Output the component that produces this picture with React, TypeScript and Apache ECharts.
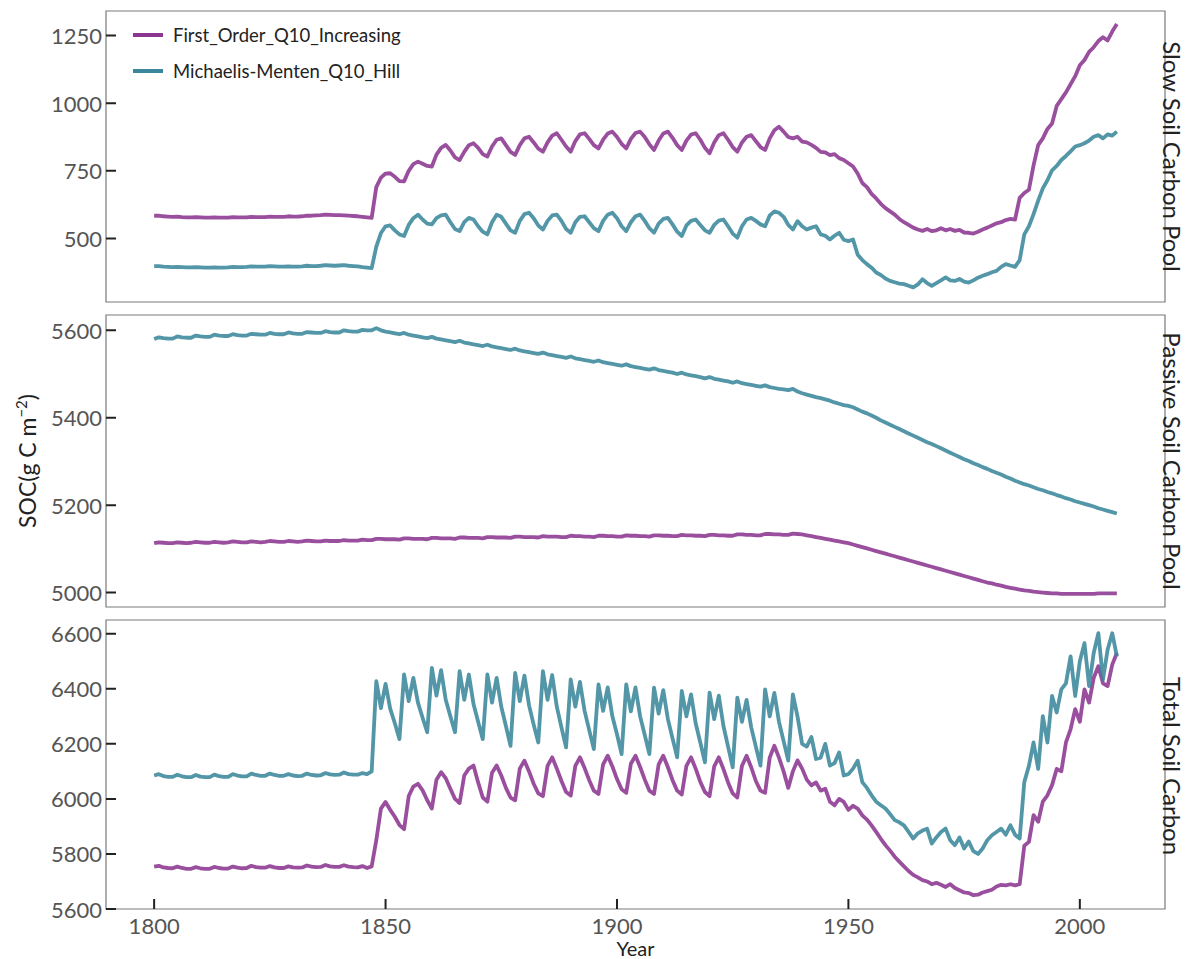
import React, { useEffect, useRef } from "react";
import * as echarts from "echarts";

const START_YEAR = 1800;
const NAME_FO = "First_Order_Q10_Increasing";
const NAME_MM = "Michaelis-Menten_Q10_Hill";
const X_TICKS = [1800, 1850, 1900, 1950, 2000];
const Y_TICKS_SLOW = [500, 750, 1000, 1250];
const Y_TICKS_PASSIVE = [5000, 5200, 5400, 5600];
const Y_TICKS_TOTAL = [5600, 5800, 6000, 6200, 6400, 6600];
const PANEL_LABELS = ["Slow Soil Carbon Pool", "Passive Soil Carbon Pool", "Total Soil Carbon"];

// Slow pool, First_Order_Q10_Increasing (1800..2008)
const slowFO = [
  584, 584, 582, 581, 580, 581, 579, 578, 578, 579,
  578, 577, 577, 578, 577, 577, 577, 579, 578, 578,
  578, 580, 579, 579, 579, 581, 580, 580, 580, 582,
  581, 581, 582, 584, 584, 585, 586, 588, 587, 586,
  586, 585, 584, 583, 582, 580, 578, 576, 690, 725,
  740, 741, 728, 712, 711, 750, 775, 784, 776, 768,
  766, 810, 835, 846, 825, 800, 790, 820, 845, 852,
  835, 812, 803, 840, 865, 870, 845, 820, 809, 845,
  870, 876, 855, 832, 821, 855, 880, 889, 865, 840,
  821, 860, 885, 889, 868, 845, 833, 865, 888, 895,
  875, 850, 833, 868, 890, 895, 875, 848, 827, 862,
  888, 895, 872, 845, 827, 862, 884, 889, 865, 835,
  815, 855, 882, 889, 865, 838, 821, 855, 876, 882,
  860, 838, 827, 870, 900, 913, 895, 875, 870, 876,
  858, 855, 846, 835, 820, 818, 808, 812, 797, 790,
  778, 766, 740, 705, 690, 665, 648, 628, 612, 600,
  588, 572, 560, 550, 540, 533, 528, 535, 527, 530,
  538, 530, 535, 528, 532, 522, 521, 518, 525, 533,
  540, 548, 556, 560, 568, 572, 570, 650, 668, 680,
  770, 845, 870, 905, 925, 990, 1015, 1040, 1070, 1100,
  1140, 1160, 1190, 1207, 1230, 1244, 1232, 1265, 1293,
];

// Slow pool, Michaelis-Menten_Q10_Hill
const slowMM = [
  398, 398, 396, 395, 394, 395, 394, 393, 393, 394,
  393, 392, 392, 393, 392, 392, 393, 395, 394, 394,
  395, 397, 396, 396, 396, 398, 397, 396, 396, 397,
  396, 396, 397, 399, 398, 398, 399, 401, 400, 399,
  400, 401, 399, 398, 397, 394, 392, 390, 470, 520,
  545, 548, 530, 515, 509, 550, 575, 588, 570, 555,
  552, 575, 585, 588, 560, 535, 527, 560, 576, 570,
  545, 525, 515, 560, 588, 580, 555, 530, 521, 565,
  590, 595, 575, 548, 533, 565, 585, 588, 565, 535,
  521, 560, 580, 582, 560, 538, 527, 565, 588, 595,
  575, 545, 527, 560, 582, 588, 565, 538, 521, 555,
  572, 576, 552, 525, 509, 548, 565, 570, 550, 530,
  521, 550, 566, 570, 545, 518, 503, 545, 570, 576,
  565, 552, 545, 585, 600, 595, 580, 550, 533, 564,
  545, 533, 540, 545, 515, 510, 496, 510, 521, 495,
  490, 496, 440, 420, 405, 392, 374, 365, 352, 343,
  338, 333, 331, 325, 319, 330, 349, 335, 325, 335,
  345, 356, 345, 343, 350, 340, 337, 345, 355, 362,
  368, 375, 380, 395, 405, 400, 395, 420, 515, 545,
  590, 640, 685, 715, 752, 768, 790, 805, 822, 840,
  845, 852, 862, 876, 882, 870, 885, 880, 895,
];

// Passive pool, First_Order_Q10_Increasing
const passiveFO = [
  5113, 5115, 5114, 5113, 5113, 5115, 5114, 5113, 5114, 5116,
  5115, 5114, 5114, 5116, 5115, 5114, 5115, 5117, 5116, 5115,
  5115, 5117, 5116, 5115, 5116, 5118, 5117, 5116, 5116, 5118,
  5117, 5116, 5117, 5119, 5118, 5117, 5117, 5119, 5118, 5118,
  5118, 5120, 5119, 5119, 5119, 5121, 5120, 5120, 5123, 5123,
  5122, 5122, 5122, 5121, 5124, 5124, 5123, 5123, 5123, 5122,
  5125, 5125, 5124, 5124, 5124, 5123, 5126, 5126, 5125, 5125,
  5125, 5124, 5127, 5127, 5126, 5126, 5126, 5125, 5128, 5128,
  5127, 5127, 5127, 5126, 5129, 5128, 5128, 5128, 5127, 5127,
  5130, 5129, 5129, 5128, 5128, 5127, 5130, 5130, 5129, 5129,
  5128, 5128, 5131, 5130, 5130, 5129, 5129, 5128, 5131, 5131,
  5130, 5130, 5129, 5129, 5132, 5131, 5131, 5130, 5130, 5129,
  5132, 5132, 5131, 5131, 5130, 5130, 5133, 5133, 5132, 5132,
  5131, 5131, 5134, 5134, 5133, 5133, 5132, 5132, 5135, 5134,
  5133, 5131, 5129, 5127, 5125, 5123, 5121, 5119, 5117, 5115,
  5113, 5110, 5107, 5104, 5101, 5098, 5095, 5092, 5089, 5086,
  5083, 5080, 5077, 5074, 5071, 5068, 5065, 5062, 5059, 5056,
  5053, 5050, 5047, 5044, 5041, 5038, 5035, 5032, 5029, 5026,
  5023, 5021, 5018, 5016, 5013, 5011, 5009, 5007, 5005, 5004,
  5002, 5001, 5000, 4999, 4998, 4998, 4997, 4997, 4997, 4997,
  4997, 4997, 4997, 4997, 4998, 4998, 4998, 4998, 4998,
];

// Passive pool, Michaelis-Menten_Q10_Hill
const passiveMM = [
  5580, 5584, 5582, 5581, 5581, 5586, 5584, 5583, 5583, 5588,
  5586, 5585, 5585, 5590, 5588, 5587, 5587, 5591, 5589, 5588,
  5588, 5592, 5591, 5590, 5590, 5594, 5592, 5591, 5591, 5595,
  5593, 5592, 5592, 5596, 5595, 5594, 5594, 5598, 5596, 5595,
  5595, 5600, 5598, 5597, 5597, 5601, 5600, 5600, 5605, 5600,
  5597, 5595, 5593, 5591, 5594, 5590, 5588, 5586, 5584, 5582,
  5585, 5581, 5579, 5577, 5575, 5573, 5576, 5572, 5570, 5568,
  5566, 5564, 5567, 5563, 5561, 5559, 5557, 5555, 5558, 5554,
  5552, 5550, 5548, 5546, 5549, 5545, 5543, 5541, 5539, 5537,
  5540, 5536, 5534, 5532, 5530, 5528, 5531, 5527, 5525, 5523,
  5521, 5519, 5522, 5518, 5516, 5514, 5512, 5510, 5513, 5509,
  5507, 5505, 5503, 5500, 5503, 5499, 5497, 5495, 5493, 5490,
  5493, 5489, 5487, 5485, 5483, 5480, 5483, 5479, 5477, 5475,
  5473, 5471, 5474, 5470, 5468, 5466, 5465, 5463, 5466, 5460,
  5456, 5453, 5450, 5447, 5445, 5442, 5439, 5435, 5432, 5429,
  5427, 5424, 5419, 5414, 5410, 5405, 5400, 5394, 5389, 5384,
  5379, 5374, 5369, 5364, 5359, 5354, 5349, 5344, 5340, 5335,
  5330, 5325, 5320, 5315, 5310, 5305, 5301, 5296, 5292, 5287,
  5283, 5278, 5274, 5270, 5265, 5261, 5256, 5252, 5248, 5245,
  5241, 5237, 5234, 5230, 5227, 5223, 5220, 5216, 5213, 5209,
  5206, 5203, 5200, 5197, 5193, 5190, 5187, 5184, 5181,
];

// Total soil carbon, First_Order_Q10_Increasing
const totalFO = [
  5754, 5757, 5751, 5749, 5748, 5754, 5749, 5746, 5746, 5752,
  5748, 5746, 5746, 5753, 5749, 5747, 5747, 5754, 5750, 5748,
  5749, 5757, 5752, 5750, 5750, 5756, 5751, 5749, 5749, 5755,
  5751, 5750, 5751, 5758, 5754, 5752, 5753, 5760, 5755, 5753,
  5753, 5759, 5754, 5752, 5751, 5756, 5749, 5755, 5850, 5965,
  5989, 5960, 5935, 5905, 5890, 6010, 6045, 6055, 6031, 5995,
  5965, 6070, 6097, 6075, 6037, 6000, 5985, 6085, 6110, 6121,
  6060, 6005, 5990, 6095, 6121, 6085, 6040, 6005, 5995, 6110,
  6139, 6100, 6055, 6020, 6010, 6120, 6151, 6110, 6065, 6025,
  6012, 6120, 6151, 6112, 6068, 6030, 6018, 6125, 6157, 6118,
  6072, 6035, 6022, 6128, 6157, 6116, 6070, 6030, 6018, 6125,
  6157, 6115, 6068, 6030, 6016, 6120, 6151, 6110, 6062, 6025,
  6010, 6118, 6151, 6108, 6060, 6020, 6005, 6120, 6157, 6115,
  6065, 6030, 6022, 6150, 6193, 6150, 6100, 6040, 6100, 6140,
  6110, 6070, 6049, 6060, 6030, 6037, 5990, 5977, 6000, 5989,
  5960, 5975, 5965, 5940, 5925, 5904, 5880, 5855, 5832, 5812,
  5790, 5772, 5755, 5738, 5724, 5715, 5705, 5700, 5690, 5695,
  5688, 5680, 5690, 5676, 5668, 5660, 5658, 5650, 5652, 5660,
  5665, 5670, 5682, 5688, 5686, 5690, 5686, 5690, 5830, 5844,
  5941, 5917, 5990, 6013, 6050, 6109, 6100, 6205, 6253, 6326,
  6280, 6398, 6350, 6440, 6482, 6420, 6410, 6488, 6530,
];

// Total soil carbon, Michaelis-Menten_Q10_Hill
const totalMM = [
  6085, 6090, 6083, 6080, 6080, 6088, 6082, 6079, 6079, 6087,
  6081, 6079, 6079, 6088, 6083, 6080, 6080, 6090, 6085, 6082,
  6082, 6092, 6087, 6084, 6084, 6092, 6087, 6084, 6084, 6090,
  6085, 6083, 6084, 6092, 6087, 6085, 6086, 6094, 6089, 6087,
  6088, 6096, 6090, 6088, 6088, 6094, 6090, 6100, 6428, 6330,
  6418, 6328, 6275, 6217, 6452, 6355, 6440, 6350, 6295, 6242,
  6476, 6375, 6468, 6360, 6300, 6242, 6464, 6360, 6452, 6345,
  6280, 6217, 6452, 6350, 6440, 6335, 6265, 6193, 6458, 6355,
  6448, 6340, 6270, 6205, 6464, 6360, 6450, 6335, 6260, 6187,
  6434, 6335, 6425, 6320, 6250, 6181, 6416, 6320, 6405, 6300,
  6235, 6163, 6416, 6318, 6405, 6300, 6232, 6163, 6404, 6310,
  6395, 6290, 6220, 6151, 6392, 6300, 6380, 6275, 6205, 6133,
  6386, 6290, 6375, 6265, 6190, 6115, 6368, 6280, 6360, 6260,
  6190, 6121, 6398, 6300, 6385, 6280, 6210, 6139, 6380, 6300,
  6200, 6190, 6225, 6145, 6150, 6200, 6121, 6130, 6169, 6085,
  6090, 6110, 6139, 6061, 6040, 6013, 5990, 5977, 5965, 5945,
  5923, 5915, 5904, 5880, 5856, 5875, 5885, 5892, 5838, 5860,
  5880, 5892, 5850, 5832, 5860, 5820, 5845, 5810, 5800, 5820,
  5850, 5868, 5880, 5892, 5870, 5904, 5870, 5856, 6061, 6120,
  6205, 6109, 6301, 6205, 6374, 6314, 6398, 6420, 6518, 6374,
  6500, 6566, 6410, 6530, 6602, 6434, 6542, 6602, 6518,
];

const years = slowFO.map((_, i) => START_YEAR + i);

const COLOR_FO = "#8b3791";
const COLOR_MM = "#3a879b";
const FONT = "Lato, 'Noto Sans', sans-serif";
const BORDER = "#7a7a7a";
const TICK_COLOR = "#222222";
const TICK_LEN = 10;
const X_MIN = 1789.6;
const X_MAX = 2018.4;

const GRIDS = [
  { left: 106, top: 11, width: 1059, height: 291 },
  { left: 106, top: 315, width: 1059, height: 292 },
  { left: 106, top: 620, width: 1059, height: 292 },
];
const Y_RANGES = [
  { min: 265, max: 1341, ticks: Y_TICKS_SLOW },
  { min: 4967, max: 5635, ticks: Y_TICKS_PASSIVE },
  { min: 5600, max: 6650, ticks: Y_TICKS_TOTAL },
];

const plain = (v: number) => String(v);

function makeSeries(name: string, color: string, vals: number[], gi: number, z: number) {
  return {
    type: "line",
    name,
    xAxisIndex: gi,
    yAxisIndex: gi,
    data: years.map((y, i) => [y, vals[i]]),
    showSymbol: false,
    symbol: "none",
    silent: true,
    z,
    itemStyle: { color },
    lineStyle: { color, width: 3.8, opacity: 0.88, join: "round" },
  };
}

// inside tick marks as short segments in data space (lengths from the axis scales)
function tickSeries(gi: number) {
  const r = Y_RANGES[gi];
  const g = GRIDS[gi];
  const dx = (TICK_LEN * (X_MAX - X_MIN)) / g.width;
  const dy = (TICK_LEN * (r.max - r.min)) / g.height;
  const data: any[] = [];
  r.ticks.forEach((v) => {
    data.push([X_MIN, v], [X_MIN + dx, v], [X_MIN + dx, "-"]);
  });
  if (gi === 2) {
    X_TICKS.forEach((v) => {
      data.push([v, r.min], [v, r.min + dy], [v, "-"]);
    });
  }
  return {
    type: "line",
    name: "ticks" + gi,
    xAxisIndex: gi,
    yAxisIndex: gi,
    data,
    showSymbol: false,
    symbol: "none",
    silent: true,
    connectNulls: false,
    clip: false,
    legendHoverLink: false,
    z: 10,
    itemStyle: { color: TICK_COLOR },
    lineStyle: { color: TICK_COLOR, width: 2, cap: "butt" },
  };
}

export default function App() {
  const ref = useRef<HTMLDivElement>(null);
  useEffect(() => {
    if (!ref.current) return;
    const chart = echarts.init(ref.current, undefined, { renderer: "svg" });
    const option: any = {
      animation: false,
      backgroundColor: "#ffffff",
      textStyle: { fontFamily: FONT },
      grid: GRIDS.map((g) => ({
        ...g,
        show: true,
        borderColor: BORDER,
        borderWidth: 1.2,
        backgroundColor: "transparent",
      })),
      legend: {
        data: [NAME_FO, NAME_MM],
        orient: "vertical",
        left: 128,
        top: 19,
        icon: "rect",
        itemWidth: 30,
        itemHeight: 4,
        itemGap: 14,
        selectedMode: false,
        textStyle: {
          fontSize: 18.5,
          color: "#222",
          fontFamily: FONT,
          padding: [0, 0, 0, 5],
          lineHeight: 22,
        },
      },
      xAxis: [0, 1, 2].map((i) => ({
        type: "value",
        gridIndex: i,
        min: X_MIN,
        max: X_MAX,
        axisLine: { show: false },
        splitLine: { show: false },
        axisTick: { show: false },
        axisLabel: {
          show: i === 2,
          customValues: X_TICKS,
          formatter: plain,
          color: "#555",
          fontSize: 22,
          fontFamily: FONT,
          margin: 5,
        },
        name: i === 2 ? "Year" : "",
        nameLocation: "middle",
        nameGap: 29,
        nameTextStyle: { fontSize: 20, color: "#222", fontFamily: FONT, verticalAlign: "top", lineHeight: 20 },
      })),
      yAxis: Y_RANGES.map((r, i) => ({
        type: "value",
        gridIndex: i,
        min: r.min,
        max: r.max,
        axisLine: { show: false },
        splitLine: { show: false },
        axisTick: { show: false },
        axisLabel: {
          customValues: r.ticks,
          formatter: plain,
          color: "#555",
          fontSize: 22,
          fontFamily: FONT,
          margin: 4,
        },
      })),
      graphic: [
        ...PANEL_LABELS.map((t, i) => ({
          type: "text",
          x: 1172,
          y: GRIDS[i].top + GRIDS[i].height / 2,
          rotation: -Math.PI / 2,
          silent: true,
          style: {
            text: t,
            fontSize: 24,
            fontFamily: FONT,
            fill: "#222",
            align: "center",
            verticalAlign: "middle",
          },
        })),
        {
          type: "text",
          x: 27,
          y: 461,
          rotation: Math.PI / 2,
          silent: true,
          style: {
            text: "{a|SOC(g C m}{s|−2}{a|)}",
            align: "center",
            verticalAlign: "middle",
            fill: "#222",
            rich: {
              a: { fontSize: 23, fontFamily: FONT, fill: "#222", lineHeight: 27 },
              s: { fontSize: 15, fontFamily: FONT, fill: "#222", verticalAlign: "top", lineHeight: 27 },
            },
          },
        },
      ],
      series: [
        makeSeries(NAME_FO, COLOR_FO, slowFO, 0, 2),
        makeSeries(NAME_MM, COLOR_MM, slowMM, 0, 3),
        makeSeries(NAME_FO, COLOR_FO, passiveFO, 1, 2),
        makeSeries(NAME_MM, COLOR_MM, passiveMM, 1, 3),
        makeSeries(NAME_FO, COLOR_FO, totalFO, 2, 2),
        makeSeries(NAME_MM, COLOR_MM, totalMM, 2, 3),
        tickSeries(0),
        tickSeries(1),
        tickSeries(2),
      ],
    };
    chart.setOption(option);
    return () => chart.dispose();
  }, []);
  return (
    <div
      ref={ref}
      style={{ position: "absolute", left: 0, top: 0, width: 1185, height: 959, background: "#fff" }}
    />
  );
}
